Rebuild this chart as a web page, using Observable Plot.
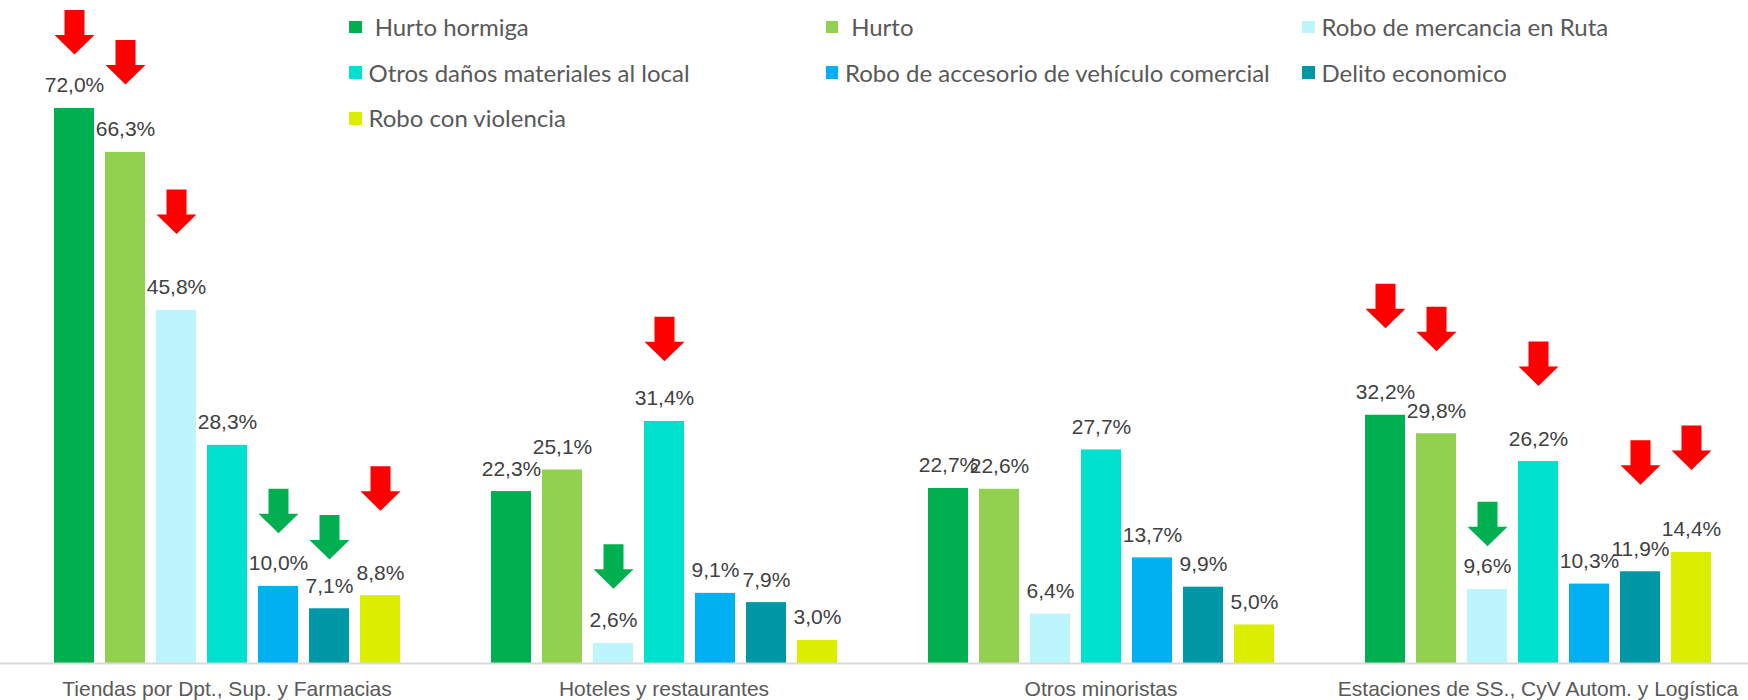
<!DOCTYPE html>
<html><head><meta charset="utf-8">
<script src="https://cdn.jsdelivr.net/npm/d3@7"></script>
<script src="https://cdn.jsdelivr.net/npm/@observablehq/plot@0.6"></script>
<style>
body{margin:0;background:#fff;}
#wrap{position:relative;width:1748px;height:700px;overflow:hidden;}
#legend{position:absolute;left:0;top:0;width:1748px;height:140px;font-family:Lato, sans-serif;font-size:24px;color:#595959;}
.item{position:absolute;height:30px;line-height:30px;display:flex;align-items:center;white-space:pre;}
.sw{width:12.6px;height:12.6px;margin-right:6.6px;flex:none;}
</style></head><body>
<div id="wrap"><div id="chart"></div><div id="legend"></div></div>
<script>
// Categories (groups on the x axis)
const groups = [
  "Tiendas por Dpt., Sup. y Farmacias",
  "Hoteles y restaurantes",
  "Otros minoristas",
  "Estaciones de SS., CyV Autom. y Logística"
];
// Series names (legend order)
const series = [
  " Hurto hormiga",
  " Hurto",
  "Robo de mercancia en Ruta",
  "Otros daños materiales al local",
  "Robo de accesorio de vehículo comercial",
  "Delito economico",
  "Robo con violencia"
];
const colors = ["#00b050", "#92d050", "#bdf5fd", "#00e0cf", "#00b0f0", "#0098a6", "#dbee00"];

// Series values (%), one per group
const hurtoHormiga   = [72.0, 22.3, 22.7, 32.2];
const hurto          = [66.3, 25.1, 22.6, 29.8];
const roboMercancia  = [45.8,  2.6,  6.4,  9.6];
const otrosDanos     = [28.3, 31.4, 27.7, 26.2];
const roboAccesorio  = [10.0,  9.1, 13.7, 10.3];
const delitoEcon     = [ 7.1,  7.9,  9.9, 11.9];
const roboViolencia  = [ 8.8,  3.0,  5.0, 14.4];
const seriesValues = [hurtoHormiga, hurto, roboMercancia, otrosDanos, roboAccesorio, delitoEcon, roboViolencia];

// Trend arrows: group index, series index, trend, level (% where the arrow tip sits)
const arrowGroup  = [0, 0, 0, 0, 0, 0, 1, 1, 3, 3, 3, 3, 3, 3];
const arrowSeries = [0, 1, 2, 4, 5, 6, 2, 3, 0, 1, 2, 3, 5, 6];
const arrowTrend  = ["sube","sube","sube","baja","baja","sube","baja","sube","sube","sube","baja","sube","sube","sube"];
const arrowLevel  = [79.0, 75.1, 55.7, 16.9, 13.5, 19.8, 9.7, 39.2, 43.5, 40.5, 15.2, 36.0, 23.2, 25.1];

const data = [];
groups.forEach((g, gi) => series.forEach((s, si) => data.push({group: g, series: s, value: seriesValues[si][gi]})));
const arrows = arrowGroup.map((g, i) => ({group: groups[g], series: series[arrowSeries[i]], trend: arrowTrend[i], level: arrowLevel[i]}));

const fmt = v => v.toFixed(1).replace(".", ",") + "%";

const arrowSymbol = {
  draw(ctx) {
    ctx.moveTo(-10, -44.5);
    ctx.lineTo(10, -44.5);
    ctx.lineTo(10, -19.5);
    ctx.lineTo(20, -19.5);
    ctx.lineTo(0, 0);
    ctx.lineTo(-20, -19.5);
    ctx.lineTo(-10, -19.5);
    ctx.closePath();
  }
};

const chart = Plot.plot({
  width: 1748, height: 700,
  marginLeft: 0, marginRight: 0, marginTop: 0, marginBottom: 37,
  style: {fontFamily: "'Liberation Sans', Arial, sans-serif", fontSize: "21px", background: "#fff", overflow: "visible"},
  fx: {domain: groups, padding: 0, label: null},
  x: {domain: series, paddingInner: 0.2226, paddingOuter: 0.858, align: 0.592, axis: null},
  y: {domain: [0, 86], axis: null},
  color: {domain: series, range: colors},
  marks: [
    Plot.barY(data, {fx: "group", x: "series", y: "value", fill: "series"}),
    Plot.ruleY([0], {stroke: "#d9d9d9", strokeWidth: 2}),
    Plot.text(data, {fx: "group", x: "series", y: "value", text: d => fmt(d.value), lineAnchor: "bottom", dy: -16, fill: "#404040", fontSize: 21}),
    Plot.dot(arrows.filter(d => d.trend === "sube"), {fx: "group", x: "series", y: "level", symbol: arrowSymbol, fill: "#ff0000"}),
    Plot.dot(arrows.filter(d => d.trend === "baja"), {fx: "group", x: "series", y: "level", symbol: arrowSymbol, fill: "#00b050"}),
    Plot.axisFx({anchor: "bottom", tickSize: 0, tickPadding: 18, dx: 8, fontSize: 21, color: "#595959", label: null})
  ]
});
document.getElementById("chart").appendChild(chart);

const legend = document.getElementById("legend");
series.forEach((s, i) => {
  const col = i % 3, row = Math.floor(i / 3);
  const item = document.createElement("div");
  item.className = "item";
  item.style.left = (349.3 + col * 476.5) + "px";
  item.style.top = (27 + row * 45.65 - 15) + "px";
  const sw = document.createElement("span");
  sw.className = "sw";
  sw.style.background = colors[i];
  const tx = document.createElement("span");
  tx.textContent = s;
  item.appendChild(sw);
  item.appendChild(tx);
  legend.appendChild(item);
});
</script>
</body></html>
